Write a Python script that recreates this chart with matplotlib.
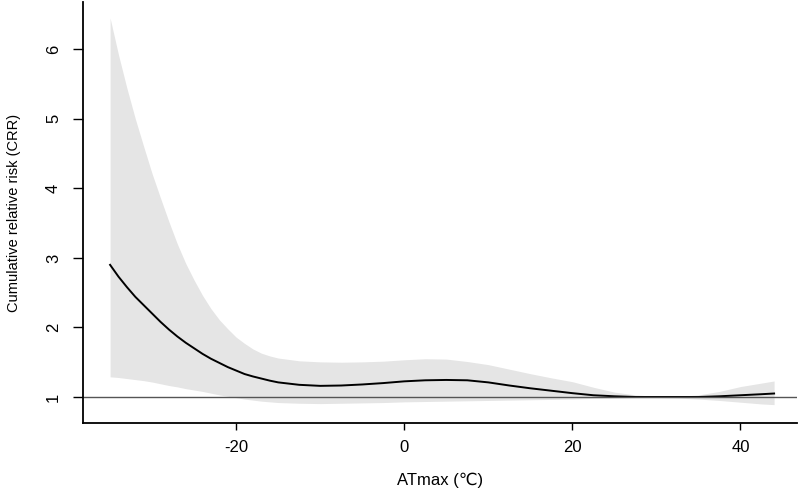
import matplotlib
matplotlib.use("Agg")
import matplotlib.pyplot as plt

# values (ATmax in degC, cumulative relative risk)
temp = [-35, -34, -33, -32, -31, -30, -29, -28, -27, -26, -25, -24, -23, -22, -21,
        -20, -19, -18, -17, -16, -15,
        -12.5, -10, -7.5, -5, -2.5, 0, 2.5, 5, 7.5, 10, 12.5, 15, 17.5, 20, 22.5,
        25, 27.5, 30, 32.5, 35, 37.5, 40, 42.5, 44]
crr = [2.90, 2.73, 2.58, 2.44, 2.32, 2.20, 2.08, 1.97, 1.87, 1.78, 1.70, 1.62, 1.55, 1.49, 1.43,
       1.38, 1.33, 1.295, 1.265, 1.235, 1.21,
       1.175, 1.16, 1.165, 1.18, 1.20, 1.225, 1.24, 1.245, 1.24, 1.21, 1.165, 1.125, 1.09, 1.055, 1.025,
       1.01, 1.0, 1.0, 1.0, 1.0, 1.01, 1.025, 1.04, 1.05]
upper = [6.45, 5.92, 5.44, 5.00, 4.60, 4.21, 3.86, 3.52, 3.20, 2.92, 2.68, 2.46, 2.27, 2.11, 1.98,
         1.86, 1.77, 1.69, 1.63, 1.59, 1.56,
         1.52, 1.505, 1.50, 1.505, 1.515, 1.535, 1.55, 1.545, 1.51, 1.465, 1.40, 1.335, 1.275, 1.22, 1.14,
         1.07, 1.03, 1.01, 1.01, 1.03, 1.08, 1.15, 1.20, 1.23]
lower = [1.29, 1.28, 1.265, 1.25, 1.235, 1.215, 1.19, 1.165, 1.145, 1.12, 1.10, 1.08, 1.055, 1.03, 1.01,
         0.99, 0.97, 0.955, 0.94, 0.93, 0.92,
         0.91, 0.905, 0.91, 0.915, 0.92, 0.93, 0.935, 0.94, 0.945, 0.95, 0.955, 0.96, 0.965, 0.97, 0.98,
         0.985, 0.99, 0.99, 0.985, 0.97, 0.95, 0.925, 0.90, 0.89]
x_ticks = [-20, 0, 20, 40]
y_ticks = [1, 2, 3, 4, 5, 6]

plt.rcParams["font.family"] = ["Liberation Sans", "DejaVu Sans"]

fig = plt.figure(figsize=(8.0, 4.91), dpi=100)
ax = fig.add_axes([0.104, 0.1385, 0.892, 0.8575])

ax.fill_between(temp, lower, upper, color="#e5e5e5", lw=0)
ax.plot(temp, crr, color="black", lw=1.4)
ax.axhline(1, color="#555555", lw=1.0)

ax.set_xlim(-38.2, 46.7)
ax.set_ylim(0.626, 6.68)

for side in ("top", "right"):
    ax.spines[side].set_visible(False)
for side in ("left", "bottom"):
    ax.spines[side].set_linewidth(1.3)
    ax.spines[side].set_color("black")

ax.set_xticks(x_ticks)
ax.set_xticklabels([str(v) for v in x_ticks], fontsize=12)
ax.set_yticks(y_ticks)
ax.set_yticklabels([str(v) for v in y_ticks], fontsize=12, rotation=90, va="center")
ax.tick_params(axis="x", length=5, width=1, pad=7)
ax.tick_params(axis="y", length=7, width=1, pad=9)

ax.set_xlabel("ATmax (℃)", fontsize=12, labelpad=13)
ax.set_ylabel("Cumulative relative risk (CRR)", fontsize=10.5, labelpad=18)

fig.savefig("out.png", dpi=100)
